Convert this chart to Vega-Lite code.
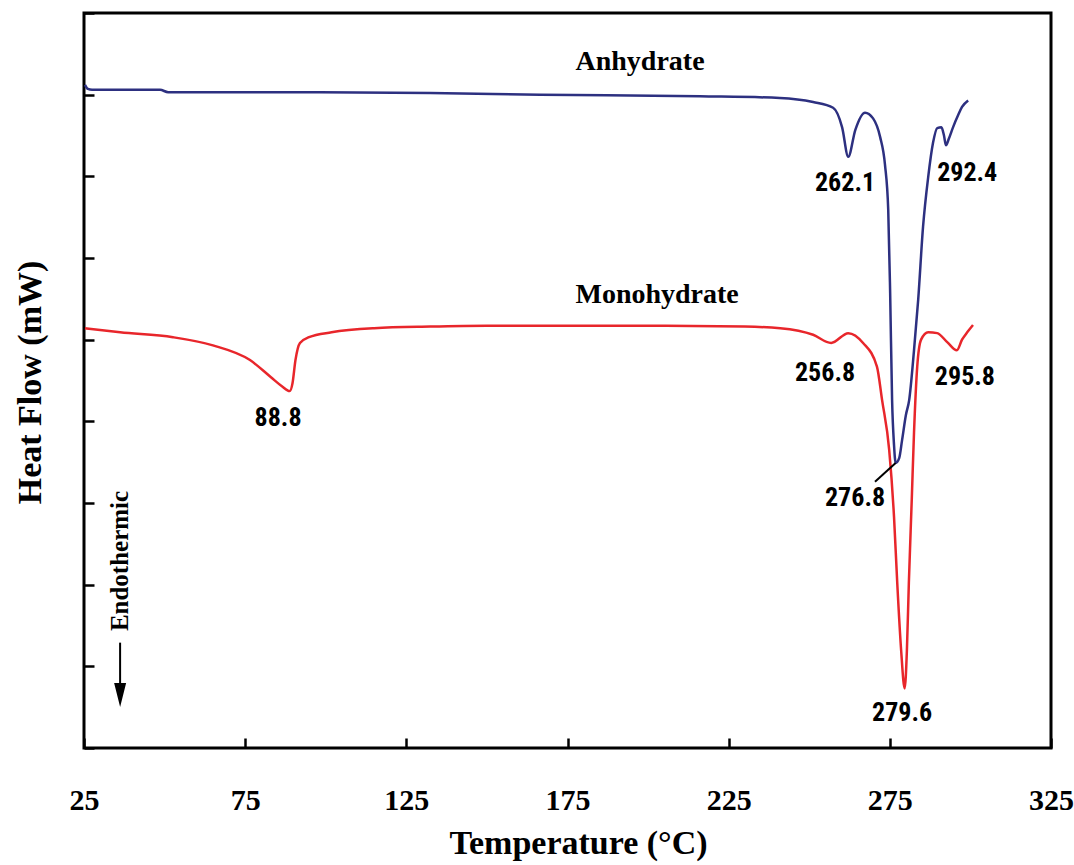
{
  "$schema": "https://vega.github.io/schema/vega-lite/v6.json",
  "width": 967,
  "height": 735,
  "autosize": {"type": "none"},
  "padding": {"left": 84, "top": 13, "right": 23, "bottom": 117},
  "background": "white",
  "config": {
    "view": {"stroke": "black", "strokeWidth": 3},
    "axis": {"grid": false, "domain": false, "tickColor": "black", "tickWidth": 2.5, "tickSize": -10,
             "labelFont": "Liberation Serif", "labelFontWeight": "bold", "labelColor": "black",
             "titleFont": "Liberation Serif", "titleFontWeight": "bold", "titleColor": "black"}
  },
  "datasets": {
    "curves": [
      {"series": "Anhydrate", "t": 25.3, "hf": 8.12},
      {"series": "Anhydrate", "t": 26.2, "hf": 8.07},
      {"series": "Anhydrate", "t": 27.5, "hf": 8.06},
      {"series": "Anhydrate", "t": 48.6, "hf": 8.06},
      {"series": "Anhydrate", "t": 51.1, "hf": 8.03},
      {"series": "Anhydrate", "t": 92.0, "hf": 8.03},
      {"series": "Anhydrate", "t": 132.4, "hf": 8.02},
      {"series": "Anhydrate", "t": 166.5, "hf": 8.0},
      {"series": "Anhydrate", "t": 216.1, "hf": 7.98},
      {"series": "Anhydrate", "t": 240.9, "hf": 7.96},
      {"series": "Anhydrate", "t": 251.2, "hf": 7.91},
      {"series": "Anhydrate", "t": 257.4, "hf": 7.84},
      {"series": "Anhydrate", "t": 260.2, "hf": 7.6},
      {"series": "Anhydrate", "t": 262.1, "hf": 7.24},
      {"series": "Anhydrate", "t": 264.3, "hf": 7.57},
      {"series": "Anhydrate", "t": 267.3, "hf": 7.78},
      {"series": "Anhydrate", "t": 269.8, "hf": 7.71},
      {"series": "Anhydrate", "t": 272.0, "hf": 7.48},
      {"series": "Anhydrate", "t": 273.5, "hf": 7.14},
      {"series": "Anhydrate", "t": 274.5, "hf": 6.59},
      {"series": "Anhydrate", "t": 275.1, "hf": 5.57},
      {"series": "Anhydrate", "t": 275.7, "hf": 4.26},
      {"series": "Anhydrate", "t": 276.3, "hf": 3.71},
      {"series": "Anhydrate", "t": 276.8, "hf": 3.49},
      {"series": "Anhydrate", "t": 277.9, "hf": 3.55},
      {"series": "Anhydrate", "t": 278.8, "hf": 3.77},
      {"series": "Anhydrate", "t": 280.0, "hf": 4.08},
      {"series": "Anhydrate", "t": 281.0, "hf": 4.26},
      {"series": "Anhydrate", "t": 282.5, "hf": 4.87},
      {"series": "Anhydrate", "t": 283.8, "hf": 5.49},
      {"series": "Anhydrate", "t": 285.3, "hf": 6.38},
      {"series": "Anhydrate", "t": 286.9, "hf": 6.99},
      {"series": "Anhydrate", "t": 288.4, "hf": 7.41},
      {"series": "Anhydrate", "t": 289.7, "hf": 7.59},
      {"series": "Anhydrate", "t": 291.0, "hf": 7.6},
      {"series": "Anhydrate", "t": 291.8, "hf": 7.5},
      {"series": "Anhydrate", "t": 292.4, "hf": 7.38},
      {"series": "Anhydrate", "t": 293.3, "hf": 7.46},
      {"series": "Anhydrate", "t": 294.6, "hf": 7.6},
      {"series": "Anhydrate", "t": 296.2, "hf": 7.75},
      {"series": "Anhydrate", "t": 297.4, "hf": 7.85},
      {"series": "Anhydrate", "t": 299.3, "hf": 7.93},

      {"series": "Monohydrate", "t": 25.3, "hf": 5.14},
      {"series": "Monohydrate", "t": 36.2, "hf": 5.09},
      {"series": "Monohydrate", "t": 52.6, "hf": 5.03},
      {"series": "Monohydrate", "t": 65.0, "hf": 4.93},
      {"series": "Monohydrate", "t": 76.5, "hf": 4.75},
      {"series": "Monohydrate", "t": 83.0, "hf": 4.54},
      {"series": "Monohydrate", "t": 86.4, "hf": 4.43},
      {"series": "Monohydrate", "t": 88.8, "hf": 4.37},
      {"series": "Monohydrate", "t": 89.7, "hf": 4.47},
      {"series": "Monohydrate", "t": 90.6, "hf": 4.75},
      {"series": "Monohydrate", "t": 92.0, "hf": 4.96},
      {"series": "Monohydrate", "t": 94.8, "hf": 5.03},
      {"series": "Monohydrate", "t": 101.8, "hf": 5.09},
      {"series": "Monohydrate", "t": 115.0, "hf": 5.14},
      {"series": "Monohydrate", "t": 132.4, "hf": 5.16},
      {"series": "Monohydrate", "t": 150.0, "hf": 5.17},
      {"series": "Monohydrate", "t": 200.0, "hf": 5.17},
      {"series": "Monohydrate", "t": 230.0, "hf": 5.16},
      {"series": "Monohydrate", "t": 241.0, "hf": 5.14},
      {"series": "Monohydrate", "t": 251.2, "hf": 5.06},
      {"series": "Monohydrate", "t": 256.8, "hf": 4.96},
      {"series": "Monohydrate", "t": 262.1, "hf": 5.08},
      {"series": "Monohydrate", "t": 266.7, "hf": 4.96},
      {"series": "Monohydrate", "t": 271.0, "hf": 4.67},
      {"series": "Monohydrate", "t": 272.6, "hf": 4.26},
      {"series": "Monohydrate", "t": 274.8, "hf": 3.65},
      {"series": "Monohydrate", "t": 276.3, "hf": 2.83},
      {"series": "Monohydrate", "t": 277.3, "hf": 2.02},
      {"series": "Monohydrate", "t": 278.5, "hf": 1.2},
      {"series": "Monohydrate", "t": 279.6, "hf": 0.73},
      {"series": "Monohydrate", "t": 280.3, "hf": 1.2},
      {"series": "Monohydrate", "t": 280.9, "hf": 2.02},
      {"series": "Monohydrate", "t": 281.8, "hf": 3.04},
      {"series": "Monohydrate", "t": 282.5, "hf": 3.86},
      {"series": "Monohydrate", "t": 283.5, "hf": 4.67},
      {"series": "Monohydrate", "t": 284.7, "hf": 5.0},
      {"series": "Monohydrate", "t": 286.9, "hf": 5.09},
      {"series": "Monohydrate", "t": 289.7, "hf": 5.08},
      {"series": "Monohydrate", "t": 292.8, "hf": 4.97},
      {"series": "Monohydrate", "t": 295.8, "hf": 4.87},
      {"series": "Monohydrate", "t": 297.4, "hf": 5.0},
      {"series": "Monohydrate", "t": 299.0, "hf": 5.09},
      {"series": "Monohydrate", "t": 300.8, "hf": 5.18}
    ],
    "peaks": [
      {"label": "262.1", "t": 261.1, "hf": 6.92},
      {"label": "292.4", "t": 299.0, "hf": 7.04},
      {"label": "256.8", "t": 254.9, "hf": 4.59},
      {"label": "295.8", "t": 298.3, "hf": 4.54},
      {"label": "276.8", "t": 264.2, "hf": 3.06},
      {"label": "279.6", "t": 278.8, "hf": 0.43},
      {"label": "88.8", "t": 85.2, "hf": 4.04}
    ],
    "names": [
      {"name": "Anhydrate", "t": 197.5, "hf": 8.4},
      {"name": "Monohydrate", "t": 202.8, "hf": 5.55}
    ],
    "leader": [
      {"t": 270.4, "hf": 3.26, "t2": 276.8, "hf2": 3.49}
    ],
    "arrow": [
      {"t": 36.2, "hf": 1.29, "hf2": 0.71, "head": 0.65, "note": "Endothermic", "noteT": 38.6, "noteHf": 2.29}
    ]
  },
  "layer": [
    {
      "data": {"name": "curves"},
      "mark": {"type": "line", "strokeWidth": 2.5, "interpolate": "monotone"},
      "encoding": {
        "x": {"field": "t", "type": "quantitative",
              "scale": {"domain": [25, 325], "nice": false, "zero": false},
              "axis": {"values": [25, 75, 125, 175, 225, 275, 325], "labelFontSize": 30, "labelPadding": 62,
                       "labelBaseline": "middle", "labelFlush": false,
                       "title": "Temperature (°C)", "titleFontSize": 34, "titleX": 494, "titleAlign": "center",
                       "titleY": 105, "titleBaseline": "alphabetic"}},
        "y": {"field": "hf", "type": "quantitative",
              "scale": {"domain": [0, 9], "nice": false, "zero": false},
              "axis": {"values": [0, 1, 2, 3, 4, 5, 6, 7, 8, 9], "labels": false,
                       "title": "Heat Flow (mW)", "titleFontSize": 34, "titleX": -44, "titleY": 369,
                       "titleBaseline": "alphabetic", "titleAngle": 270}},
        "color": {"field": "series", "type": "nominal",
                  "scale": {"domain": ["Monohydrate", "Anhydrate"], "range": ["#e8262b", "#2d3080"]},
                  "legend": null},
        "order": {"field": "series", "sort": "descending"}
      }
    },
    {
      "data": {"name": "peaks"},
      "mark": {"type": "text", "font": "Liberation Sans Narrow, Arial Narrow, Roboto Condensed, Liberation Sans",
               "fontWeight": "bold", "fontSize": 26,
               "align": "center", "baseline": "middle", "color": "black"},
      "encoding": {
        "x": {"field": "t", "type": "quantitative"},
        "y": {"field": "hf", "type": "quantitative"},
        "text": {"field": "label"}
      }
    },
    {
      "data": {"name": "names"},
      "mark": {"type": "text", "font": "Liberation Serif", "fontWeight": "bold", "fontSize": 28,
               "align": "center", "baseline": "middle", "color": "black"},
      "encoding": {
        "x": {"field": "t", "type": "quantitative"},
        "y": {"field": "hf", "type": "quantitative"},
        "text": {"field": "name"}
      }
    },
    {
      "data": {"name": "leader"},
      "mark": {"type": "rule", "color": "black", "strokeWidth": 2},
      "encoding": {
        "x": {"field": "t", "type": "quantitative"},
        "y": {"field": "hf", "type": "quantitative"},
        "x2": {"field": "t2"},
        "y2": {"field": "hf2"}
      }
    },
    {
      "data": {"name": "arrow"},
      "mark": {"type": "rule", "color": "black", "strokeWidth": 2},
      "encoding": {
        "x": {"field": "t", "type": "quantitative"},
        "y": {"field": "hf", "type": "quantitative"},
        "y2": {"field": "hf2"}
      }
    },
    {
      "data": {"name": "arrow"},
      "mark": {"type": "point", "shape": "M-0.5,-1L0.5,-1L0,1Z", "filled": true, "color": "black",
               "size": 576, "opacity": 1},
      "encoding": {
        "x": {"field": "t", "type": "quantitative"},
        "y": {"field": "head", "type": "quantitative"}
      }
    },
    {
      "data": {"name": "arrow"},
      "mark": {"type": "text", "font": "Liberation Serif", "fontWeight": "bold", "fontSize": 25,
               "angle": 270, "align": "center", "baseline": "alphabetic", "color": "black"},
      "encoding": {
        "x": {"field": "noteT", "type": "quantitative"},
        "y": {"field": "noteHf", "type": "quantitative"},
        "text": {"field": "note"}
      }
    }
  ]
}
